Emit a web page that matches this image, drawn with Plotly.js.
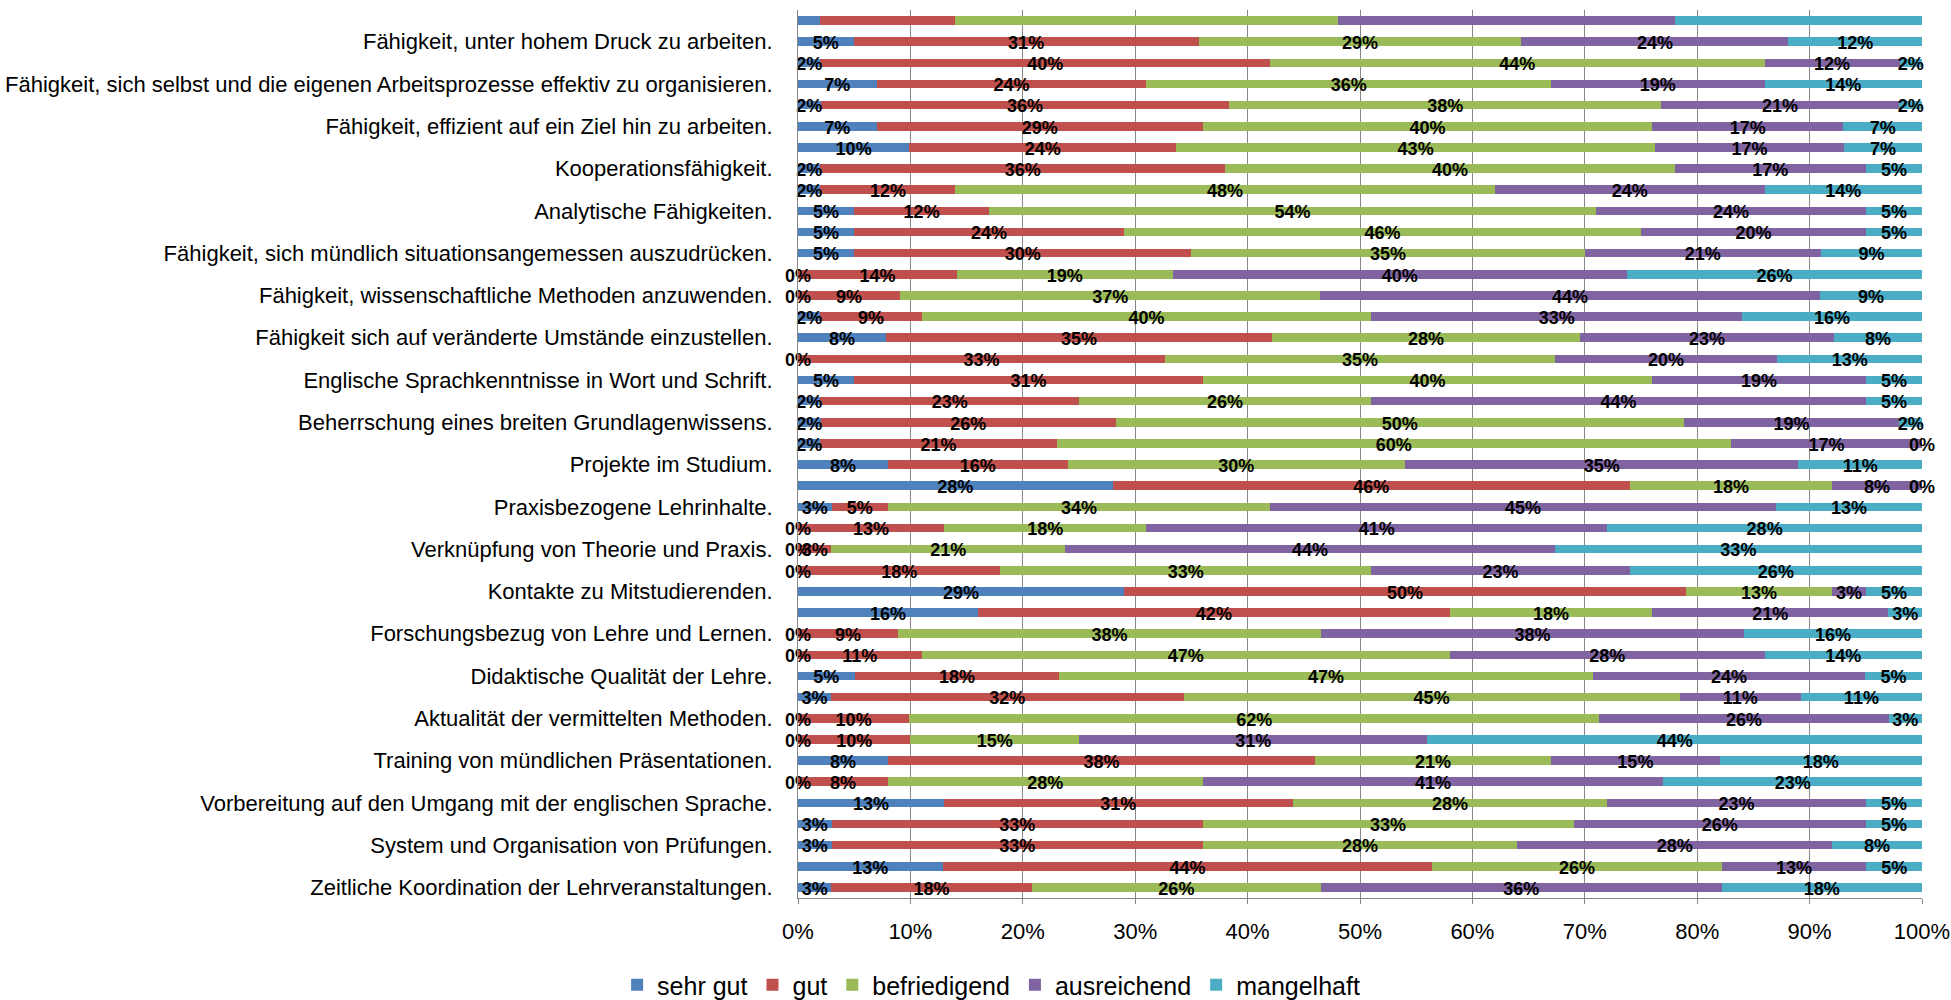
<!DOCTYPE html>
<html><head><meta charset="utf-8">
<script src="https://cdn.plot.ly/plotly-3.0.1.min.js"></script>
<style>html,body{margin:0;padding:0;background:#fff;} #chart{width:1951px;height:1000px;}</style>
</head><body><div id="chart"></div>
<script>
const categories = [
  "Fähigkeit, unter hohem Druck zu arbeiten.",
  "Fähigkeit, sich selbst und die eigenen Arbeitsprozesse effektiv zu organisieren.",
  "Fähigkeit, effizient auf ein Ziel hin zu arbeiten.",
  "Kooperationsfähigkeit.",
  "Analytische Fähigkeiten.",
  "Fähigkeit, sich mündlich situationsangemessen auszudrücken.",
  "Fähigkeit, wissenschaftliche Methoden anzuwenden.",
  "Fähigkeit sich auf veränderte Umstände einzustellen.",
  "Englische Sprachkenntnisse in Wort und Schrift.",
  "Beherrschung eines breiten Grundlagenwissens.",
  "Projekte im Studium.",
  "Praxisbezogene Lehrinhalte.",
  "Verknüpfung von Theorie und Praxis.",
  "Kontakte zu Mitstudierenden.",
  "Forschungsbezug von Lehre und Lernen.",
  "Didaktische Qualität der Lehre.",
  "Aktualität der vermittelten Methoden.",
  "Training von mündlichen Präsentationen.",
  "Vorbereitung auf den Umgang mit der englischen Sprache.",
  "System und Organisation von Prüfungen.",
  "Zeitliche Koordination der Lehrveranstaltungen."
];
const seriesNames = ["sehr gut", "gut", "befriedigend", "ausreichend", "mangelhaft"];
// two bars per category, top to bottom (values in %)
const sehrGut      = [2,5,2,7,2,7,10,2,2,5, 5,5,0,0,2,8,0,5,2,2, 2,8,28,3,0,0,0,29,16,0, 0,5,3,0,0,8,0,13,3,3, 13,3];
const gut          = [12,31,40,24,36,29,24,36,12,12, 24,30,14,9,9,35,33,31,23,26, 21,16,46,5,13,3,18,50,42,9, 11,18,32,10,10,38,8,31,33,33, 44,18];
const befriedigend = [34,29,44,36,38,40,43,40,48,54, 46,35,19,37,40,28,35,40,26,50, 60,30,18,34,18,21,33,13,18,38, 47,47,45,62,15,21,28,28,33,28, 26,26];
const ausreichend  = [30,24,12,19,21,17,17,17,24,24, 20,21,40,44,33,23,20,19,44,19, 17,35,8,45,41,44,23,3,21,38, 28,24,11,26,31,15,41,23,26,28, 13,36];
const mangelhaft   = [22,12,2,14,2,7,7,5,14,5, 5,9,26,9,16,8,13,5,5,2, 0,11,0,13,28,33,26,5,3,16, 14,5,11,3,44,18,23,5,5,8, 5,18];
const unlabeledBars = [0]; // the top bar carries no data labels
const tickLabels = ["0%","10%","20%","30%","40%","50%","60%","70%","80%","90%","100%"];

const colors = ["#4F81BD", "#C0504D", "#9BBB59", "#8064A2", "#4BACC6"];
const series = [sehrGut, gut, befriedigend, ausreichend, mangelhaft];
const rows = sehrGut.map((_, i) => i);

const traces = series.map((vals, s) => ({
  type: "bar", orientation: "h", name: seriesNames[s],
  x: vals, y: rows, marker: { color: colors[s], line: { width: 0 } },
  hoverinfo: "name+x"
}));

// data labels at segment centres (normalised to 100%, like a 100% stacked bar)
const lx = [], ly = [], lt = [];
rows.forEach(i => {
  if (unlabeledBars.includes(i)) return;
  const total = series.reduce((a, v) => a + v[i], 0);
  let cum = 0;
  series.forEach(vals => {
    const v = vals[i];
    lx.push((cum + v / 2) / total * 100);
    ly.push(i);
    lt.push(v + "%");
    cum += v;
  });
});
traces.push({
  type: "scatter", mode: "text", x: lx, y: ly, text: lt, yaxis: "y2",
  textposition: "middle center", cliponaxis: false, showlegend: false, hoverinfo: "skip",
  textfont: { family: "Liberation Sans, Arial, sans-serif", size: 18, color: "#000", weight: 700 }
});

const n = rows.length;
const shift = 0.13;
const layout = {
  width: 1951, height: 1000,
  margin: { l: 798, r: 29, t: 10, b: 102 },
  paper_bgcolor: "#fff", plot_bgcolor: "#fff",
  barmode: "stack", barnorm: "percent", bargap: 0.6,
  font: { family: "Liberation Sans, Arial, sans-serif", color: "#000", size: 22 },
  xaxis: {
    range: [0, 100], tickvals: tickLabels.map((_, k) => k * 10), ticktext: tickLabels,
    showgrid: true, gridcolor: "#868686", gridwidth: 1, zeroline: false,
    showline: true, linecolor: "#868686", linewidth: 1,
    ticks: "outside", ticklen: 5, tickcolor: "#868686",
    ticklabelstandoff: 9, ticklabeloverflow: "allow", tickfont: { size: 22 }
  },
  yaxis: {
    range: [n - 0.5, -0.5], tickvals: categories.map((_, k) => 2 * k + 1), ticktext: categories,
    showgrid: false, zeroline: false, showline: true, linecolor: "#868686", linewidth: 1,
    ticks: "", ticklabelstandoff: 20, tickfont: { size: 22 }
  },
  yaxis2: { overlaying: "y", range: [n - 0.5 - shift, -0.5 - shift], visible: false },
  legend: {
    orientation: "h", traceorder: "normal",
    xref: "container", yref: "container", x: 0.508, xanchor: "center", y: 0.015, yanchor: "middle",
    font: { size: 25 }
  },
  showlegend: true
};

Plotly.newPlot("chart", traces, layout, { displayModeBar: false, staticPlot: true });
</script>
</body></html>
